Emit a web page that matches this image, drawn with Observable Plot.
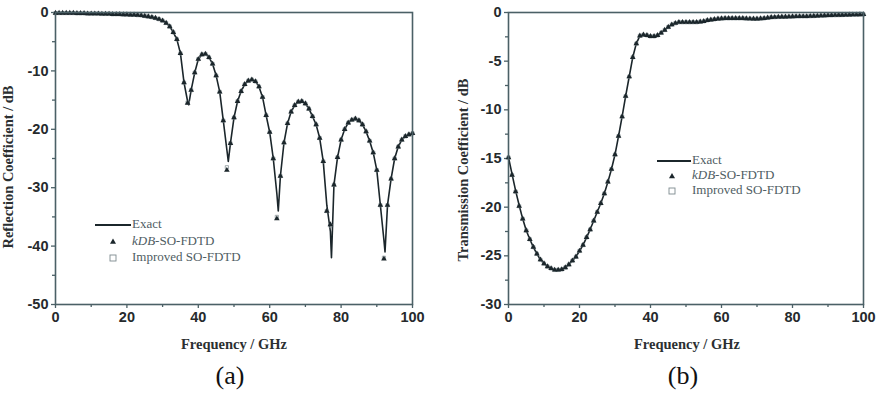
<!DOCTYPE html>
<html><head><meta charset="utf-8">
<script src="https://cdn.jsdelivr.net/npm/d3@7"></script>
<script src="https://cdn.jsdelivr.net/npm/@observablehq/plot@0.6"></script>
<style>
body{margin:0;background:#fff;}
#wrap{position:relative;width:883px;height:395px;overflow:hidden;background:#fff;}
.p{position:absolute;top:0;}
#ov{position:absolute;left:0;top:0;pointer-events:none;}
</style></head>
<body><div id="wrap"></div>
<script>
// ---------- data ----------
const freq = [0,1,2,3,4,5,6,7,8,9,10,11,12,13,14,15,16,17,18,19,20,21,22,23,24,25,26,27,28,29,30,31,32,33,34,35,36,37,38,39,40,41,42,43,44,45,46,47,48,49,50,51,52,53,54,55,56,57,58,59,60,61,62,63,64,65,66,67,68,69,70,71,72,73,74,75,76,77,78,79,80,81,82,83,84,85,86,87,88,89,90,91,92,93,94,95,96,97,98,99,100];

// (a) reflection coefficient, markers
const reflKDB = [-0.1,-0.1,-0.1,-0.1,-0.1,-0.1,-0.15,-0.15,-0.15,-0.2,-0.2,-0.2,-0.2,-0.25,-0.25,-0.25,-0.3,-0.3,-0.3,-0.35,-0.35,-0.4,-0.4,-0.45,-0.5,-0.6,-0.7,-0.8,-0.95,-1.15,-1.4,-1.8,-2.4,-3.4,-4.6,-7.0,-12.0,-15.5,-13.3,-10.3,-8.0,-7.2,-7.1,-7.7,-8.8,-10.8,-13.6,-18.5,-27.0,-22.4,-18.0,-15.2,-13.5,-12.3,-11.7,-11.5,-11.8,-12.7,-14.5,-17.6,-20.5,-25.0,-35.3,-28.0,-22.3,-19.0,-17.0,-15.9,-15.3,-15.2,-15.6,-16.5,-17.8,-19.2,-21.5,-25.5,-34.0,-36.3,-29.5,-24.8,-21.8,-20.0,-18.9,-18.4,-18.2,-18.5,-19.2,-20.4,-22.0,-24.0,-27.0,-33.0,-42.2,-33.0,-28.5,-25.0,-23.0,-21.8,-21.2,-20.9,-20.7];
const reflImproved = [-0.1,-0.1,-0.1,-0.1,-0.1,-0.1,-0.15,-0.15,-0.15,-0.2,-0.2,-0.2,-0.2,-0.25,-0.25,-0.25,-0.3,-0.3,-0.3,-0.35,-0.35,-0.4,-0.4,-0.45,-0.5,-0.6,-0.7,-0.8,-0.95,-1.15,-1.4,-1.8,-2.4,-3.4,-4.6,-7.0,-12.0,-15.4,-13.3,-10.3,-8.0,-7.2,-7.1,-7.7,-8.8,-10.8,-13.6,-18.5,-26.5,-22.4,-18.0,-15.2,-13.5,-12.3,-11.7,-11.5,-11.8,-12.7,-14.5,-17.6,-20.5,-25.0,-35.0,-28.0,-22.3,-19.0,-17.0,-15.9,-15.3,-15.2,-15.6,-16.5,-17.8,-19.2,-21.5,-25.5,-34.0,-36.5,-29.5,-24.8,-21.8,-20.0,-18.9,-18.4,-18.2,-18.5,-19.2,-20.4,-22.0,-24.0,-27.0,-33.0,-42.0,-33.0,-28.5,-25.0,-23.0,-21.8,-21.2,-20.9,-20.7];
// (a) exact curve
const reflExactFreq = [0,1,2,3,4,5,6,7,8,9,10,11,12,13,14,15,16,17,18,19,20,21,22,23,24,25,26,27,28,29,30,31,32,33,34,35,36,37,37.3,38,39,40,41,42,43,44,45,46,47,48,48.4,49,50,51,52,53,54,55,56,57,58,59,60,61,62,62.4,63,64,65,66,67,68,69,70,71,72,73,74,75,76,77,77.3,78,79,80,81,82,83,84,85,86,87,88,89,90,91,92,92.3,93,94,95,96,97,98,99,100];
const reflExact = [-0.1,-0.1,-0.1,-0.1,-0.1,-0.1,-0.15,-0.15,-0.15,-0.2,-0.2,-0.2,-0.2,-0.25,-0.25,-0.25,-0.3,-0.3,-0.3,-0.35,-0.35,-0.4,-0.4,-0.45,-0.5,-0.6,-0.7,-0.8,-0.95,-1.15,-1.4,-1.8,-2.4,-3.4,-4.6,-7.0,-12.0,-15.2,-15.8,-13.3,-10.3,-8.0,-7.2,-7.1,-7.7,-8.8,-10.8,-13.6,-18.5,-23.5,-25.5,-22.4,-18.0,-15.2,-13.5,-12.3,-11.7,-11.5,-11.8,-12.7,-14.5,-17.6,-20.5,-25.0,-31.0,-34.0,-28.0,-22.3,-19.0,-17.0,-15.9,-15.3,-15.2,-15.6,-16.5,-17.8,-19.2,-21.5,-25.5,-33.0,-37.5,-42.0,-29.5,-24.8,-21.8,-20.0,-18.9,-18.4,-18.2,-18.5,-19.2,-20.4,-22.0,-24.0,-27.0,-33.0,-39.0,-41.0,-33.0,-28.5,-25.0,-23.0,-21.8,-21.2,-20.9,-20.7];

// (b) transmission coefficient (exact curve and markers coincide)
const transExact = [-14.9,-16.6,-18.3,-19.8,-21.2,-22.4,-23.3,-24.1,-24.8,-25.4,-25.8,-26.1,-26.3,-26.4,-26.4,-26.35,-26.2,-25.9,-25.5,-25.1,-24.5,-23.9,-23.1,-22.3,-21.4,-20.5,-19.6,-18.6,-17.4,-16.1,-14.6,-12.7,-10.7,-8.6,-6.6,-4.6,-3.2,-2.4,-2.3,-2.35,-2.45,-2.45,-2.35,-2.1,-1.8,-1.5,-1.25,-1.1,-1.0,-1.0,-1.0,-1.0,-1.0,-1.0,-0.95,-0.9,-0.8,-0.75,-0.7,-0.65,-0.62,-0.6,-0.6,-0.6,-0.6,-0.6,-0.6,-0.62,-0.64,-0.65,-0.65,-0.63,-0.6,-0.55,-0.5,-0.48,-0.46,-0.45,-0.44,-0.43,-0.42,-0.41,-0.4,-0.4,-0.4,-0.38,-0.37,-0.35,-0.33,-0.32,-0.3,-0.29,-0.28,-0.27,-0.26,-0.25,-0.24,-0.23,-0.22,-0.21,-0.2];
const transKDB = [-14.9,-16.7,-18.4,-19.9,-21.2,-22.4,-23.3,-24.1,-24.8,-25.4,-25.8,-26.1,-26.3,-26.45,-26.45,-26.4,-26.2,-25.9,-25.5,-25.1,-24.5,-23.9,-23.1,-22.3,-21.4,-20.5,-19.6,-18.6,-17.4,-16.1,-14.6,-12.7,-10.7,-8.6,-6.6,-4.6,-3.2,-2.4,-2.3,-2.35,-2.45,-2.45,-2.35,-2.1,-1.8,-1.5,-1.25,-1.1,-1.0,-1.0,-1.0,-1.0,-1.0,-1.0,-0.95,-0.9,-0.8,-0.75,-0.7,-0.65,-0.62,-0.6,-0.6,-0.6,-0.6,-0.6,-0.6,-0.62,-0.64,-0.65,-0.65,-0.63,-0.6,-0.55,-0.5,-0.48,-0.46,-0.45,-0.44,-0.43,-0.42,-0.41,-0.4,-0.4,-0.4,-0.38,-0.37,-0.35,-0.33,-0.32,-0.3,-0.29,-0.28,-0.27,-0.26,-0.25,-0.24,-0.23,-0.22,-0.21,-0.2];
const transImproved = transKDB;

const xMajor = [0,20,40,60,80,100];
const xMinor = [10,30,50,70,90];
const yMajorA = [0,-10,-20,-30,-40,-50];
const yMinorA = [-5,-15,-25,-35,-45];
const yMajorB = [0,-5,-10,-15,-20,-25,-30];
const yMinorB = [-2.5,-7.5,-12.5,-17.5,-22.5,-27.5];

const seriesNames = ["Exact","kDB-SO-FDTD","Improved SO-FDTD"];

// ---------- drawing ----------
const FRAME = "#4b6066";
const INK = "#1b262b";

function panel(o){
  const ex = o.exactX.map((x,i)=>({x, y:o.exactY[i]}));
  const kd = freq.map((x,i)=>({x, y:o.kdb[i]}));
  const im = freq.map((x,i)=>({x, y:o.imp[i]}));
  return Plot.plot({
    width:o.width, height:395,
    marginLeft:o.ml, marginRight:o.mr, marginTop:12, marginBottom:91,
    x:{domain:[0,100]},
    y:{domain:o.yDomain},
    style:{fontFamily:"'Liberation Sans', Arial, sans-serif", fontWeight:"bold", fontSize:"14.5px", color:"#222", background:"transparent"},
    marks:[
      Plot.axisX({ticks:xMajor, tickSize:4, tickPadding:3, tickFormat:d=>String(d), label:null, stroke:FRAME, strokeWidth:1.3, fill:"#262a2c"}),
      Plot.axisX({ticks:xMinor, tickSize:3, tickFormat:()=>"", label:null, stroke:FRAME, strokeWidth:1.3}),
      Plot.axisY({ticks:o.yMajor, tickSize:4, tickPadding:3, tickFormat:d=>String(d), label:null, stroke:FRAME, strokeWidth:1.3, fill:"#262a2c"}),
      Plot.axisY({ticks:o.yMinor, tickSize:3, tickFormat:()=>"", label:null, stroke:FRAME, strokeWidth:1.3}),
      Plot.line(ex, {x:"x", y:"y", stroke:INK, strokeWidth:1.6}),
      Plot.dot(im, {x:"x", y:"y", symbol:"square", r:1.8, stroke:"#8a9599", strokeWidth:0.8, fill:"none"}),
      Plot.dot(kd, {x:"x", y:"y", symbol:"triangle", r:2.1, fill:INK, stroke:"none"}),
      Plot.frame({stroke:FRAME, strokeWidth:1.6})
    ]
  });
}

const wrap = document.getElementById("wrap");
const pa = panel({width:440, ml:55, mr:28, yDomain:[-50,0], yMajor:yMajorA, yMinor:yMinorA,
  exactX:reflExactFreq, exactY:reflExact, kdb:reflKDB, imp:reflImproved});
pa.classList.add("p"); pa.style.left = "0px";
wrap.appendChild(pa);
const pb = panel({width:443, ml:68, mr:20, yDomain:[-30,0], yMajor:yMajorB, yMinor:yMinorB,
  exactX:freq, exactY:transExact, kdb:transKDB, imp:transImproved});
pb.classList.add("p"); pb.style.left = "440px";
wrap.appendChild(pb);

// overlay: titles, panel labels, legends
const NS = "http://www.w3.org/2000/svg";
const ov = document.createElementNS(NS,"svg");
ov.setAttribute("id","ov"); ov.setAttribute("width",883); ov.setAttribute("height",395);
wrap.appendChild(ov);
function txt(x,y,s,attrs){
  const t = document.createElementNS(NS,"text");
  t.setAttribute("x",x); t.setAttribute("y",y);
  for (const k in attrs) t.setAttribute(k, attrs[k]);
  if (typeof s === "string") t.textContent = s; else s(t);
  ov.appendChild(t); return t;
}
const titleStyle = {"font-family":"'Liberation Serif', 'Times New Roman', serif","font-weight":"bold","font-size":"14.5px","fill":"#2b2f31","text-anchor":"middle","dominant-baseline":"middle"};
txt(234,346,"Frequency / GHz",titleStyle);
txt(687,346,"Frequency / GHz",titleStyle);
txt(0,0,"Reflection Coefficient / dB",Object.assign({transform:"translate(10,167) rotate(-90)"},titleStyle));
txt(0,0,"Transmission Coefficient / dB",Object.assign({transform:"translate(465,170) rotate(-90)"},titleStyle));
const capStyle = {"font-family":"'Liberation Serif', 'Times New Roman', serif","font-size":"26px","fill":"#111","text-anchor":"middle","dominant-baseline":"middle"};
txt(230,378,"(a)",capStyle);
txt(683,378,"(b)",capStyle);

function legend(lx0, lx1, ly, sx, tx, dy){
  const ln = document.createElementNS(NS,"line");
  ln.setAttribute("x1",lx0); ln.setAttribute("x2",lx1); ln.setAttribute("y1",ly); ln.setAttribute("y2",ly);
  ln.setAttribute("stroke",INK); ln.setAttribute("stroke-width",1.8);
  ov.appendChild(ln);
  const tri = document.createElementNS(NS,"path");
  const ty = ly+dy;
  tri.setAttribute("d",`M${sx},${ty-3}L${sx+3},${ty+2.2}L${sx-3},${ty+2.2}Z`);
  tri.setAttribute("fill",INK); ov.appendChild(tri);
  const sq = document.createElementNS(NS,"rect");
  sq.setAttribute("x",sx-3); sq.setAttribute("y",ly+2*dy-3); sq.setAttribute("width",6); sq.setAttribute("height",6);
  sq.setAttribute("fill","none"); sq.setAttribute("stroke","#7d8a8f"); sq.setAttribute("stroke-width",0.9);
  ov.appendChild(sq);
  const ls = {"font-family":"'Liberation Serif', 'Times New Roman', serif","font-size":"13px","fill":"#4f5d63","dominant-baseline":"middle"};
  txt(tx,ly,seriesNames[0],ls);
  txt(tx,ty,t=>{
    const a = document.createElementNS(NS,"tspan"); a.setAttribute("font-style","italic"); a.textContent = "kDB"; t.appendChild(a);
    const b = document.createElementNS(NS,"tspan"); b.textContent = "-SO-FDTD"; t.appendChild(b);
  },ls);
  txt(tx,ly+2*dy,seriesNames[2],ls);
}
legend(95,131,225,113,132,16.5);
legend(657,691,161,672,692,15);
</script>
</body></html>
